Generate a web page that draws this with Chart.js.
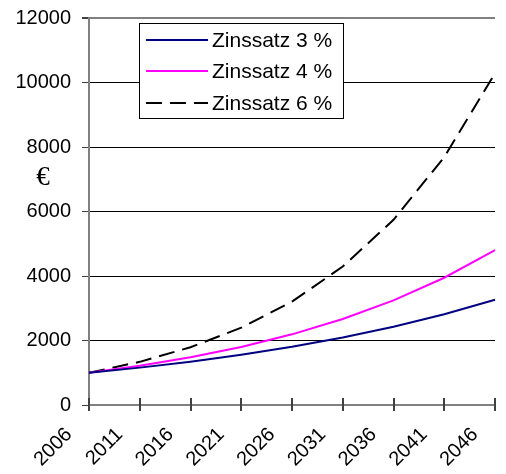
<!DOCTYPE html>
<html>
<head>
<meta charset="utf-8">
<script src="https://cdn.jsdelivr.net/npm/chart.js@4"></script>
<style>
  html, body { margin: 0; padding: 0; background: #fff; }
  #c { display: block; }
</style>
</head>
<body>
<canvas id="c" width="506" height="474"></canvas>
<script>
// Kapitalentwicklung von 1000 € bei verschiedenen Zinssätzen
const years = ['2006', '2011', '2016', '2021', '2026', '2031', '2036', '2041', '2046'];
const rate3 = [1000, 1159, 1344, 1558, 1806, 2094, 2427, 2814, 3262];
const rate4 = [1000, 1217, 1480, 1801, 2191, 2666, 3243, 3946, 4801];
const rate6 = [1000, 1338, 1791, 2397, 3207, 4292, 5743, 7686, 10286];
const seriesNames = ['Zinssatz 3 %', 'Zinssatz 4 %', 'Zinssatz 6 %'];
const yTicks = [0, 2000, 4000, 6000, 8000, 10000, 12000];

const AXIS_GRAY = '#808080';

// Legend box drawn inside the plot area
const boxLegend = {
  id: 'boxLegend',
  afterDatasetsDraw(chart) {
    const ctx = chart.ctx;
    const x0 = 139.5, y0 = 23.5, w = 204, h = 95;
    ctx.save();
    ctx.fillStyle = '#fff';
    ctx.fillRect(x0, y0, w, h);
    ctx.strokeStyle = '#000';
    ctx.lineWidth = 1;
    ctx.strokeRect(x0, y0, w, h);
    const rows = [40, 71, 103];
    chart.data.datasets.forEach((ds, i) => {
      const y = rows[i];
      ctx.beginPath();
      ctx.setLineDash(ds.borderDash || []);
      ctx.strokeStyle = ds.borderColor;
      ctx.lineWidth = ds.borderWidth;
      ctx.moveTo(146, y);
      ctx.lineTo(208, y);
      ctx.stroke();
      ctx.setLineDash([]);
      ctx.fillStyle = '#000';
      ctx.font = '21px "Liberation Sans", Arial, sans-serif';
      ctx.textAlign = 'left';
      ctx.textBaseline = 'middle';
      ctx.fillText(ds.label, 212, y + 1);
    });
    ctx.restore();
  }
};

// Tick marks crossing the category axis, and the currency symbol
const axisExtras = {
  id: 'axisExtras',
  afterDraw(chart) {
    const ctx = chart.ctx;
    const xs = chart.scales.x;
    const yBase = chart.scales.y.getPixelForValue(0);
    ctx.save();
    ctx.strokeStyle = '#404040';
    ctx.lineWidth = 2;
    for (let i = 0; i < years.length; i++) {
      const px = Math.round(xs.getPixelForTick(i));
      ctx.beginPath();
      ctx.moveTo(px, yBase - 7);
      ctx.lineTo(px, yBase + 6);
      ctx.stroke();
    }
    ctx.fillStyle = '#000';
    ctx.font = '27px "Liberation Serif", "Times New Roman", serif';
    ctx.textAlign = 'center';
    ctx.textBaseline = 'middle';
    ctx.fillText('€', 43, 178);
    ctx.restore();
  }
};

new Chart(document.getElementById('c'), {
  type: 'line',
  data: {
    labels: years,
    datasets: [
      { label: seriesNames[0], data: rate3, borderColor: '#000080', borderWidth: 2, pointRadius: 0, tension: 0, fill: false },
      { label: seriesNames[1], data: rate4, borderColor: '#ff00ff', borderWidth: 2, pointRadius: 0, tension: 0, fill: false },
      { label: seriesNames[2], data: rate6, borderColor: '#000000', borderWidth: 2, borderDash: [16, 8], pointRadius: 0, tension: 0, fill: false }
    ]
  },
  options: {
    responsive: false,
    devicePixelRatio: 1,
    animation: false,
    layout: { padding: { top: 18, right: 11, left: 0, bottom: 0 } },
    plugins: {
      legend: { display: false },
      tooltip: { enabled: false }
    },
    scales: {
      x: {
        type: 'category',
        offset: false,
        grid: { display: false, drawTicks: false },
        border: { display: true, color: AXIS_GRAY, width: 2 },
        ticks: {
          autoSkip: false,
          maxRotation: 45,
          minRotation: 45,
          padding: 18,
          labelOffset: -20,
          color: '#000',
          font: { family: '"Liberation Sans", Arial, sans-serif', size: 20 }
        },
        afterFit(scale) {
          scale.height = 69;
          scale.paddingLeft = 0;
          scale.paddingRight = 0;
        }
      },
      y: {
        min: 0,
        max: 12000,
        afterBuildTicks(scale) { scale.ticks = yTicks.map(v => ({ value: v })); },
        grid: {
          color: ctx => ctx.tick.value === 0 ? 'rgba(0,0,0,0)' : (ctx.tick.value === 12000 ? AXIS_GRAY : '#000'),
          lineWidth: ctx => ctx.tick.value === 12000 ? 2 : 1,
          tickColor: '#404040',
          tickLength: 7,
          drawTicks: true
        },
        border: { display: true, color: AXIS_GRAY, width: 2 },
        ticks: {
          padding: 11,
          color: '#000',
          font: { family: '"Liberation Sans", Arial, sans-serif', size: 20 },
          callback: v => String(v)
        },
        afterFit(scale) {
          scale.width = 89;
          scale.paddingTop = 0;
          scale.paddingBottom = 0;
        }
      }
    }
  },
  plugins: [boxLegend, axisExtras]
});
</script>
</body>
</html>
